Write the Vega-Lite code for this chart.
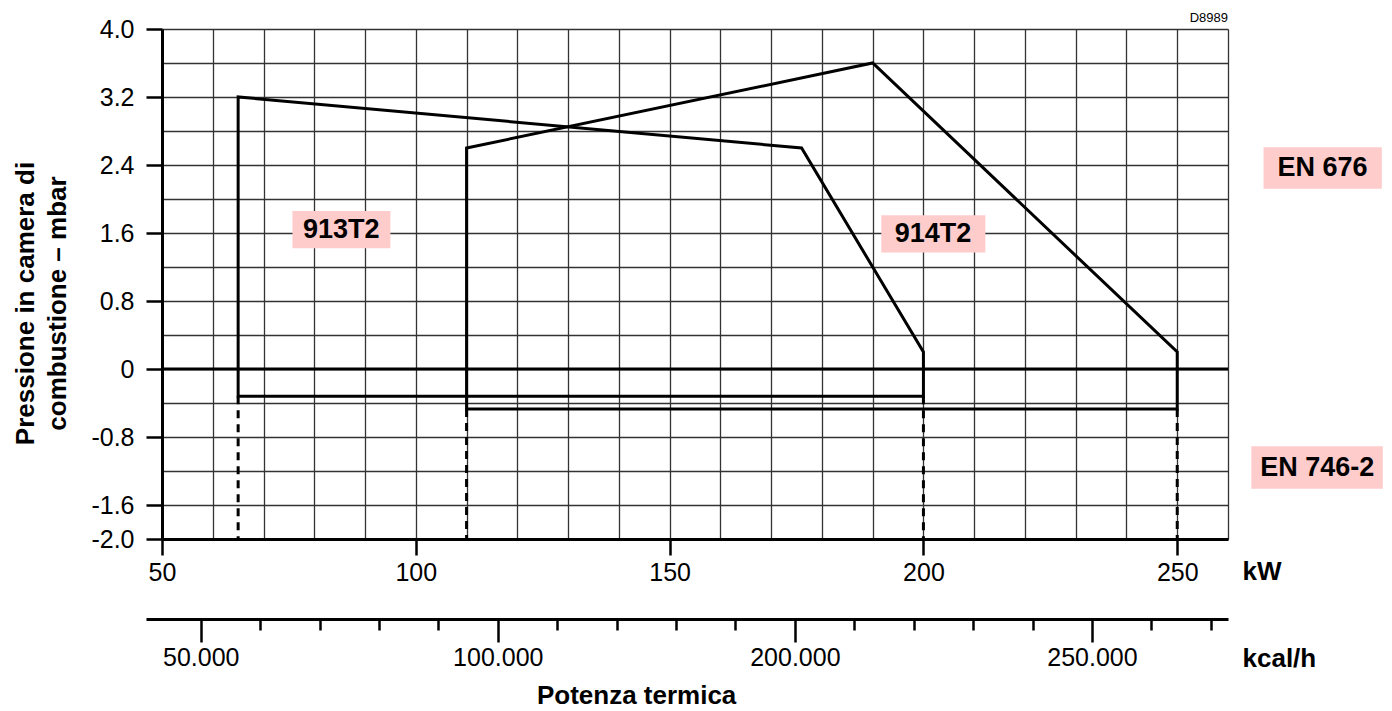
{
  "$schema": "https://vega.github.io/schema/vega-lite/v6.json",
  "width": 1066,
  "height": 510,
  "autosize": "none",
  "padding": {"left": 162, "top": 29, "right": 164, "bottom": 172},
  "background": "white",
  "config": {
    "view": {"stroke": null},
    "axis": {"labelOverlap": false, "labelBound": false, "labelFlush": false, "labelColor": "black", "titleColor": "black"}
  },
  "datasets": {
    "curves": [
      {"model": "913T2", "i": 1, "kw": 65, "mbar": -0.32},
      {"model": "913T2", "i": 2, "kw": 65, "mbar": 3.2},
      {"model": "913T2", "i": 3, "kw": 176, "mbar": 2.6},
      {"model": "913T2", "i": 4, "kw": 200, "mbar": 0.2},
      {"model": "913T2", "i": 5, "kw": 200, "mbar": -0.32},
      {"model": "913T2", "i": 6, "kw": 65, "mbar": -0.32},
      {"model": "914T2", "i": 1, "kw": 110, "mbar": -0.47},
      {"model": "914T2", "i": 2, "kw": 110, "mbar": 2.6},
      {"model": "914T2", "i": 3, "kw": 190, "mbar": 3.6},
      {"model": "914T2", "i": 4, "kw": 250, "mbar": 0.2},
      {"model": "914T2", "i": 5, "kw": 250, "mbar": -0.47},
      {"model": "914T2", "i": 6, "kw": 110, "mbar": -0.47}
    ],
    "dashes": [
      {"g": "a", "kw": 65, "mbar": -0.32},
      {"g": "a", "kw": 65, "mbar": -2.0},
      {"g": "b", "kw": 110, "mbar": -0.47},
      {"g": "b", "kw": 110, "mbar": -2.0},
      {"g": "c", "kw": 200, "mbar": -0.32},
      {"g": "c", "kw": 200, "mbar": -2.0},
      {"g": "d", "kw": 250, "mbar": -0.47},
      {"g": "d", "kw": 250, "mbar": -2.0}
    ],
    "zero": [{"mbar": 0}],
    "tags": [
      {"label": "913T2", "x1": 75.7, "x2": 95.0, "y1": 1.86, "y2": 1.42, "tx": 85.3, "ty": 1.64},
      {"label": "914T2", "x1": 191.7, "x2": 212.2, "y1": 1.81, "y2": 1.37, "tx": 201.9, "ty": 1.59},
      {"label": "EN 676", "x1": 267.0, "x2": 290.3, "y1": 2.61, "y2": 2.12, "tx": 278.6, "ty": 2.365},
      {"label": "EN 746-2", "x1": 264.6, "x2": 290.5, "y1": -0.91, "y2": -1.41, "tx": 277.6, "ty": -1.16}
    ],
    "notes": [
      {"label": "Potenza termica", "kw": 143.5, "mbar": -3.85}
    ],
    "code": [
      {"label": "D8989", "kw": 260, "mbar": 4.0}
    ],
    "kcal": [
      {"kcal": 50000}, {"kcal": 60000}, {"kcal": 70000}, {"kcal": 80000}, {"kcal": 90000},
      {"kcal": 100000}, {"kcal": 110000}, {"kcal": 120000}, {"kcal": 130000}, {"kcal": 140000},
      {"kcal": 150000}, {"kcal": 160000}, {"kcal": 170000}, {"kcal": 180000}, {"kcal": 190000},
      {"kcal": 200000}, {"kcal": 210000}, {"kcal": 220000}
    ]
  },
  "resolve": {"scale": {"x": "independent"}, "axis": {"x": "independent"}},
  "layer": [
    {
      "resolve": {"axis": {"y": "independent"}},
      "layer": [
        {
          "data": {"name": "zero"},
          "mark": {"type": "rule", "strokeWidth": 3, "color": "black"},
          "encoding": {
            "y": {
              "field": "mbar", "type": "quantitative",
              "scale": {"domain": [-2, 4], "nice": false, "zero": false},
              "axis": {
                "orient": "left",
                "values": [-2, -1.6, -0.8, 0, 0.8, 1.6, 2.4, 3.2, 4],
                "grid": true, "gridColor": "#333", "gridWidth": 1.3,
                "domain": true, "domainColor": "black", "domainWidth": 3,
                "ticks": true, "tickColor": "black", "tickWidth": 2.5, "tickSize": 16,
                "labelExpr": "datum.value == 0 ? '0' : (datum.value < 0 ? '-' : '') + format(abs(datum.value), '.1f')",
                "labelFont": "Liberation Sans, Arial", "labelFontSize": 25, "labelPadding": 12,
                "title": ["Pressione in camera di", "combustione – mbar"],
                "titleFont": "Liberation Sans, Arial", "titleFontSize": 26, "titleFontWeight": "bold",
                "titleAngle": -90, "titleX": -137, "titleY": 274, "titleAlign": "center", "titleBaseline": "middle", "titleLineHeight": 32
              }
            }
          }
        },
        {
          "data": {"name": "dashes"},
          "mark": {"type": "line", "strokeWidth": 3, "color": "black", "strokeDash": [8, 6]},
          "encoding": {
            "x": {"field": "kw", "type": "quantitative"},
            "y": {
              "field": "mbar", "type": "quantitative",
              "axis": {
                "orient": "right",
                "values": [-1.2, -0.4, 0.4, 1.2, 2.0, 2.8, 3.6],
                "grid": true, "gridColor": "#333", "gridWidth": 1.3,
                "domain": false, "ticks": false, "labels": false, "title": null
              }
            },
            "detail": {"field": "g"}
          }
        },
        {
          "data": {"name": "curves"},
          "mark": {"type": "line", "strokeWidth": 3, "color": "black", "strokeJoin": "miter", "strokeCap": "square"},
          "encoding": {
            "x": {
              "field": "kw", "type": "quantitative",
              "scale": {"domain": [50, 260], "nice": false, "zero": false},
              "axis": {
                "values": [50, 60, 70, 80, 90, 100, 110, 120, 130, 140, 150, 160, 170, 180, 190, 200, 210, 220, 230, 240, 250, 260],
                "grid": true, "gridColor": "#333", "gridWidth": 1.3,
                "domain": true, "domainColor": "black", "domainWidth": 3,
                "ticks": true, "tickColor": "black", "tickWidth": 2.5, "tickSize": 16,
                "tickOpacity": {"condition": {"test": "datum.value % 50 == 0", "value": 1}, "value": 0},
                "labelExpr": "datum.value % 50 == 0 ? format(datum.value, 'd') : ''",
                "labelFont": "Liberation Sans, Arial", "labelFontSize": 25, "labelPadding": 5,
                "title": "kW", "titleFont": "Liberation Sans, Arial", "titleFontSize": 26, "titleFontWeight": "bold",
                "titleX": 1080, "titleY": 32, "titleAlign": "left", "titleBaseline": "middle"
              }
            },
            "y": {"field": "mbar", "type": "quantitative", "axis": null},
            "detail": {"field": "model"},
            "order": {"field": "i", "type": "quantitative"}
          }
        },
        {
          "data": {"name": "tags"},
          "mark": {"type": "rect", "color": "#ffcccc"},
          "encoding": {
            "x": {"field": "x1", "type": "quantitative"},
            "x2": {"field": "x2"},
            "y": {"field": "y1", "type": "quantitative", "axis": null},
            "y2": {"field": "y2"}
          }
        },
        {
          "data": {"name": "tags"},
          "mark": {"type": "text", "font": "Liberation Sans, Arial", "fontSize": 27, "fontWeight": "bold", "color": "black", "align": "center", "baseline": "middle"},
          "encoding": {
            "x": {"field": "tx", "type": "quantitative"},
            "y": {"field": "ty", "type": "quantitative", "axis": null},
            "text": {"field": "label"}
          }
        },
        {
          "data": {"name": "notes"},
          "mark": {"type": "text", "font": "Liberation Sans, Arial", "fontSize": 26, "fontWeight": "bold", "color": "black", "align": "center", "baseline": "middle"},
          "encoding": {
            "x": {"field": "kw", "type": "quantitative"},
            "y": {"field": "mbar", "type": "quantitative", "axis": null},
            "text": {"field": "label"}
          }
        },
        {
          "data": {"name": "code"},
          "mark": {"type": "text", "font": "Liberation Sans, Arial", "fontSize": 13, "color": "black", "align": "right", "baseline": "alphabetic", "dy": -7},
          "encoding": {
            "x": {"field": "kw", "type": "quantitative"},
            "y": {"field": "mbar", "type": "quantitative", "axis": null},
            "text": {"field": "label"}
          }
        }
      ]
    },
    {
      "data": {"name": "kcal"},
      "mark": {"type": "point", "opacity": 0},
      "encoding": {
        "x": {
          "field": "kcal", "type": "quantitative",
          "scale": {"domain": [40790, 222900], "range": [-16, 1066], "nice": false, "zero": false},
          "axis": {
            "orient": "bottom", "offset": 80,
            "values": [50000, 60000, 70000, 80000, 90000, 100000, 110000, 120000, 130000, 140000, 150000, 160000, 170000, 180000, 190000, 200000, 210000, 220000],
            "grid": false,
            "domain": true, "domainColor": "black", "domainWidth": 3,
            "ticks": true, "tickColor": "black", "tickWidth": 2.5,
            "tickSize": {"condition": {"test": "datum.value % 50000 == 0", "value": 23}, "value": 11},
            "labelExpr": "datum.value == 50000 ? '50.000' : datum.value == 100000 ? '100.000' : datum.value == 150000 ? '200.000' : datum.value == 200000 ? '250.000' : ''",
            "labelFont": "Liberation Sans, Arial", "labelFontSize": 25, "labelPadding": 3,
            "title": "kcal/h", "titleFont": "Liberation Sans, Arial", "titleFontSize": 26, "titleFontWeight": "bold",
            "titleX": 1080, "titleY": 39, "titleAlign": "left", "titleBaseline": "middle"
          }
        }
      }
    }
  ]
}
